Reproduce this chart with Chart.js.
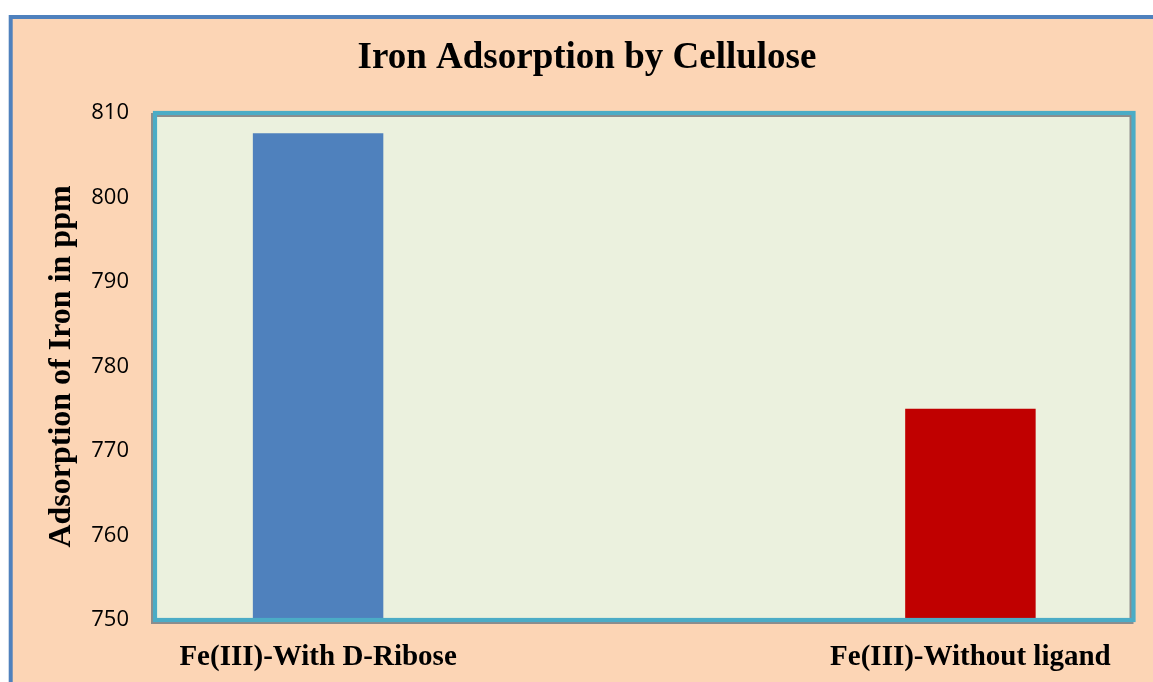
<!DOCTYPE html>
<html>
<head>
<meta charset="utf-8">
<script src="https://cdn.jsdelivr.net/npm/chart.js@4/dist/chart.umd.min.js"></script>
<style>
  html, body { margin: 0; padding: 0; background: #ffffff; }
  #wrap { width: 1153px; height: 682px; position: relative; }
</style>
</head>
<body>
<div id="wrap"><canvas id="c" width="1153" height="682"></canvas></div>
<script>
const categories = ['Fe(III)-With D-Ribose', 'Fe(III)-Without ligand'];
const adsorption = [807.6, 775.0];
const barColors = ['#4F81BD', '#C00000'];
const yTicks = [750, 760, 770, 780, 790, 800, 810];
const chartTitle = 'Iron Adsorption by Cellulose';
const yTitle = 'Adsorption of Iron in ppm';

const framePlugin = {
  id: 'frame',
  beforeDraw(chart) {
    const ctx = chart.ctx;
    ctx.save();
    ctx.fillStyle = '#ffffff';
    ctx.fillRect(0, 0, chart.width, chart.height);
    ctx.fillStyle = '#FCD5B5';
    ctx.fillRect(10.7, 17, chart.width + 20, chart.height + 20);
    ctx.strokeStyle = '#4F81BD';
    ctx.lineWidth = 4;
    ctx.strokeRect(10.7, 17, chart.width + 20, chart.height + 20);
    const a = chart.chartArea;
    ctx.fillStyle = '#EBF1DE';
    ctx.fillRect(a.left, a.top, a.right - a.left, a.bottom - a.top);
    ctx.restore();
  },
  afterDatasetsDraw(chart) {
    const ctx = chart.ctx;
    const a = chart.chartArea;
    ctx.save();
    ctx.strokeStyle = '#8C8C8C';
    ctx.lineWidth = 4;
    ctx.strokeRect(a.left - 2, a.top + 2, a.right - a.left, a.bottom - a.top);
    ctx.strokeStyle = '#4BACC6';
    ctx.lineWidth = 4.2;
    ctx.strokeRect(a.left, a.top, a.right - a.left, a.bottom - a.top);
    ctx.restore();
  }
};

new Chart(document.getElementById('c'), {
  type: 'bar',
  data: {
    datasets: [{
      data: adsorption.map((v, i) => ({ x: i, y: v })),
      backgroundColor: barColors,
      borderWidth: 0,
      barPercentage: 0.2,
      categoryPercentage: 1.0
    }]
  },
  options: {
    responsive: false,
    animation: false,
    events: [],
    layout: { padding: { top: 20, left: 40.5, right: 19.5, bottom: 0 } },
    plugins: {
      legend: { display: false },
      tooltip: { enabled: false },
      title: {
        display: true,
        text: chartTitle,
        color: '#000000',
        font: { family: 'Liberation Serif', size: 37, weight: 'bold', lineHeight: 1.2 },
        padding: { top: 15.8, bottom: 32.8 }
      }
    },
    scales: {
      x: {
        type: 'linear',
        min: -0.25,
        max: 1.25,
        offset: false,
        grid: { display: false, drawTicks: false, offset: false },
        border: { display: false },
        afterBuildTicks: (s) => { s.ticks = categories.map((c, i) => ({ value: i })); },
        afterFit: (s) => { s.height = 62; },
        ticks: {
          autoSkip: false,
          maxRotation: 0,
          padding: 20,
          color: '#000000',
          font: { family: 'Liberation Serif', size: 29, weight: 'bold', lineHeight: 1.2 },
          callback: (v) => categories[v]
        }
      },
      y: {
        min: yTicks[0],
        max: yTicks[yTicks.length - 1],
        grid: { display: false, drawTicks: false },
        border: { display: false },
        afterBuildTicks: (s) => { s.ticks = yTicks.map(v => ({ value: v })); },
        afterFit: (s) => { s.width = 114.5; },
        ticks: {
          padding: 26,
          color: '#000000',
          font: { family: 'Open Sans', size: 22 }
        },
        title: {
          display: true,
          text: yTitle,
          color: '#000000',
          font: { family: 'Liberation Serif', size: 32, weight: 'bold', lineHeight: 1.2 },
          padding: { top: 2.3, bottom: 0 }
        }
      }
    }
  },
  plugins: [framePlugin]
});
</script>
</body>
</html>
